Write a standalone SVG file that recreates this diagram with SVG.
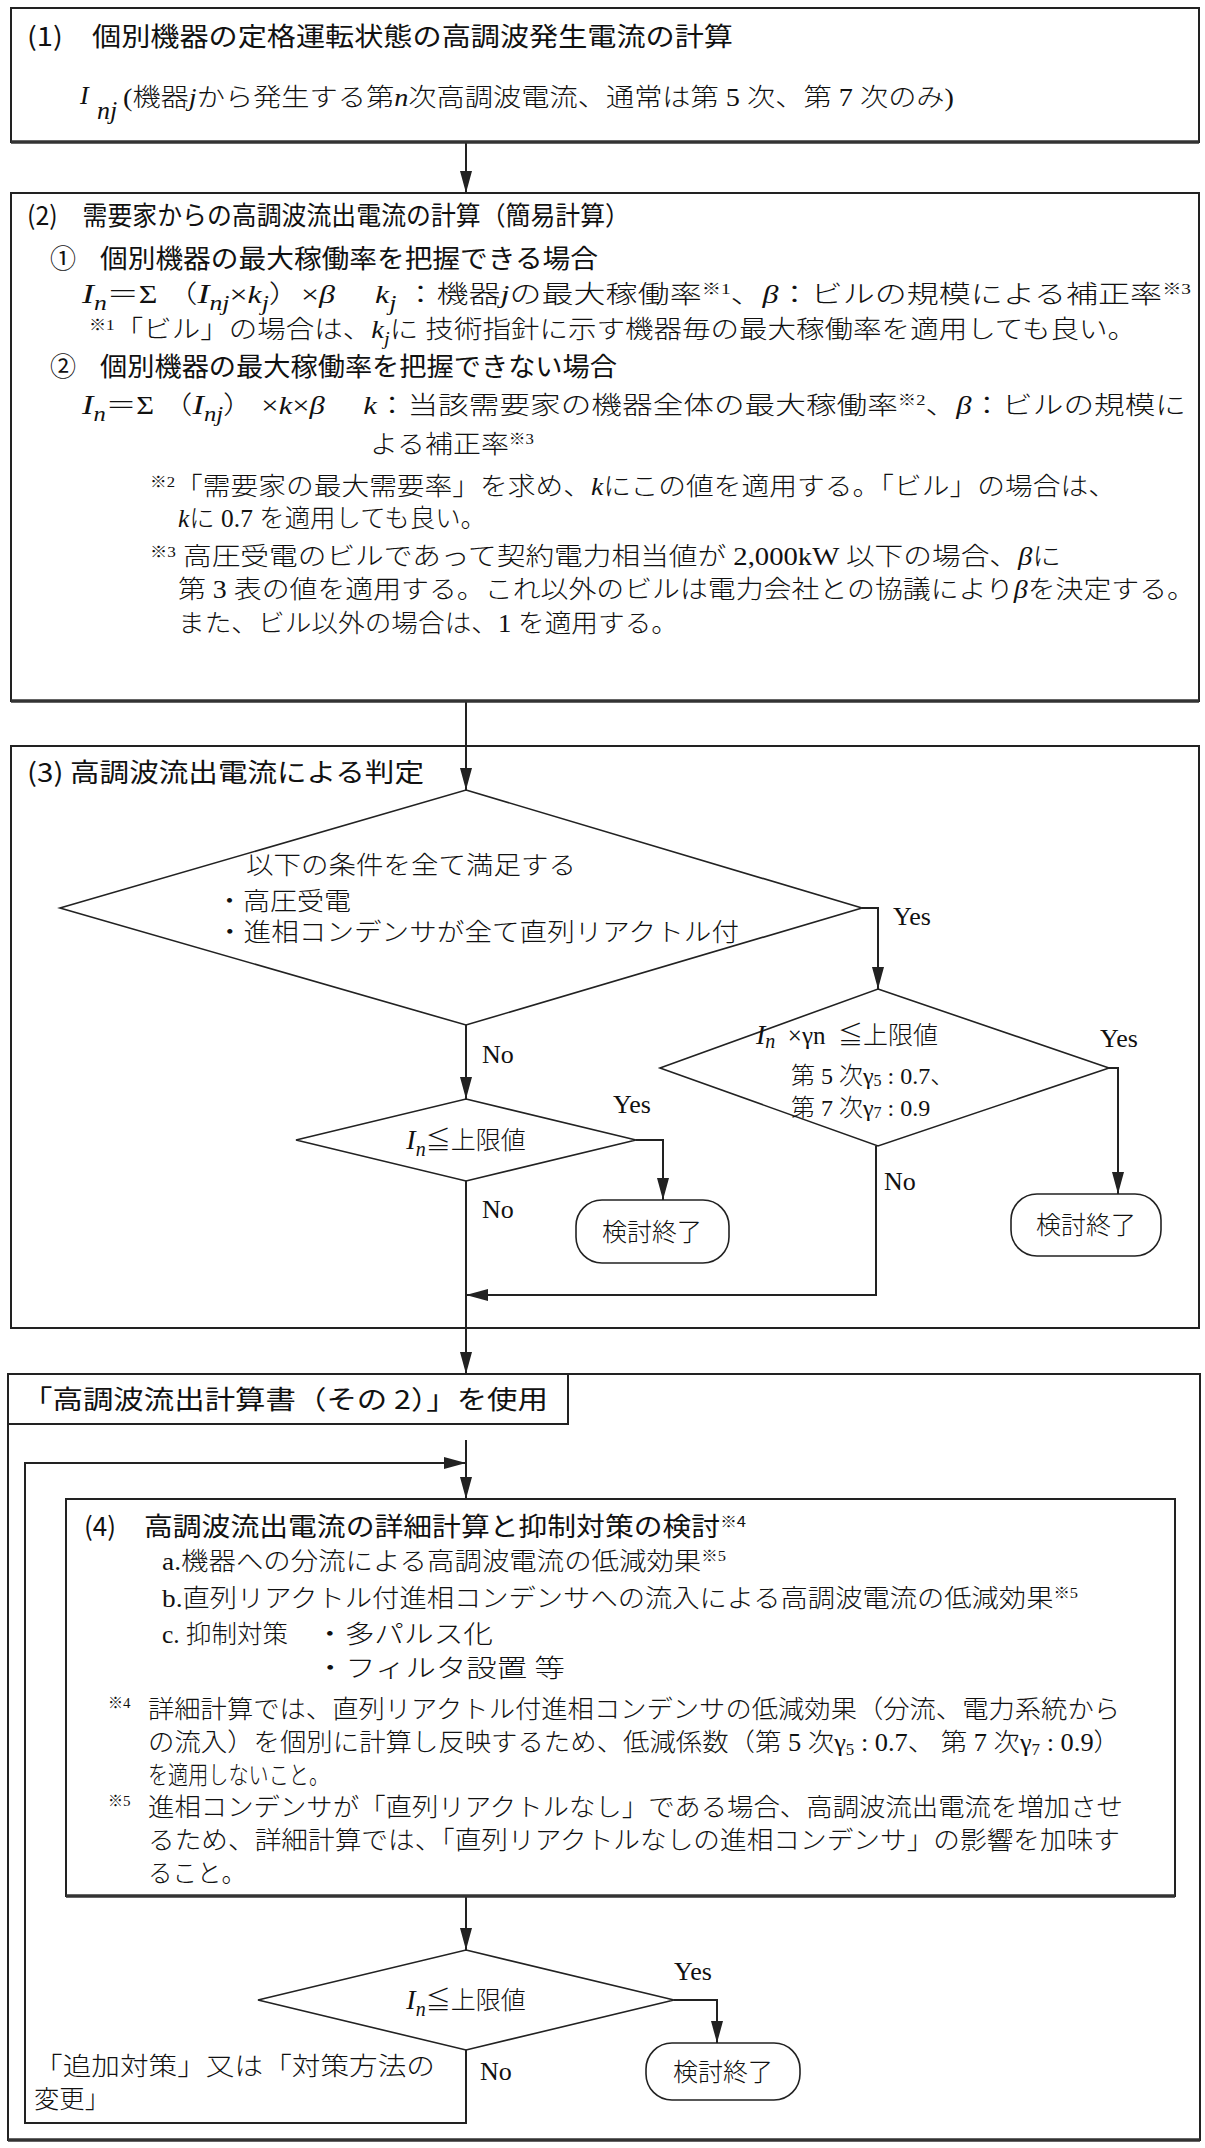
<svg xmlns="http://www.w3.org/2000/svg" width="1205" height="2148" viewBox="0 0 1205 2148">
<style>
.box{fill:none;stroke:#222;stroke-width:2}
.shade{stroke:#333;stroke-width:3.5}
.shape{fill:#fff;stroke:#222;stroke-width:1.6}
.edge{fill:none;stroke:#222;stroke-width:2}
.t{font-family:"Noto Sans CJK JP",sans-serif;font-size:26px;fill:#111}
.b{font-family:"Liberation Serif","Noto Sans CJK JP",serif;font-size:25px;fill:#111;font-weight:300}
.i{font-family:"Liberation Serif",serif;font-style:italic}
.l{font-family:"Liberation Serif",serif;font-size:26px;fill:#111}
.sup{font-size:15px}
</style>
<defs>
<marker id="arr" markerUnits="userSpaceOnUse" markerWidth="22" markerHeight="12" refX="22" refY="6" orient="auto">
<path d="M0,0 L22,6 L0,12 z" fill="#222"/>
</marker>
</defs>
<rect x="0" y="0" width="1205" height="2148" fill="#fff"/>

<g id="edges">
<line class="edge" x1="466" y1="142" x2="466" y2="193" marker-end="url(#arr)"/>
<line class="edge" x1="466" y1="701" x2="466" y2="790" marker-end="url(#arr)"/>
<polyline class="edge" points="862,908 878,908 878,989" marker-end="url(#arr)"/>
<polyline class="edge" points="1109,1068 1118,1068 1118,1194" marker-end="url(#arr)"/>
<line class="edge" x1="466" y1="1025" x2="466" y2="1099" marker-end="url(#arr)"/>
<polyline class="edge" points="636,1140 663,1140 663,1200" marker-end="url(#arr)"/>
<polyline class="edge" points="876,1146 876,1295 466,1295" marker-end="url(#arr)"/>
<line class="edge" x1="466" y1="1181" x2="466" y2="1374" marker-end="url(#arr)"/>
<line class="edge" x1="466" y1="1440" x2="466" y2="1499" marker-end="url(#arr)"/>
<polyline class="edge" points="466,2050 466,2123 25,2123 25,1463 466,1463" marker-end="url(#arr)"/>
<line class="edge" x1="466" y1="1896" x2="466" y2="1950" marker-end="url(#arr)"/>
<polyline class="edge" points="674,2000 717,2000 717,2043" marker-end="url(#arr)"/>
</g>

<g id="n1">
<rect class="box" x="11" y="8" width="1188" height="134"/>
<line class="shade" x1="11" y1="142" x2="1199" y2="142"/>
<text class="t" x="27" y="46" textLength="706" lengthAdjust="spacingAndGlyphs">(1)　個別機器の定格運転状態の高調波発生電流の計算</text>
<text class="l i" x="80" y="104" font-size="30">I</text>
<text class="l i" x="97" y="119" font-size="21">nj</text>
<text class="b" x="123" y="106" textLength="831" lengthAdjust="spacingAndGlyphs">(機器<tspan class="i">j</tspan>から発生する第<tspan class="i">n</tspan>次高調波電流、通常は第 5 次、第 7 次のみ)</text>
</g>

<g id="n2">
<rect class="box" x="11" y="193" width="1188" height="508"/>
<line class="shade" x1="11" y1="701" x2="1199" y2="701"/>
<text class="t" x="27" y="225" textLength="603" lengthAdjust="spacingAndGlyphs">(2)　需要家からの高調波流出電流の計算（簡易計算）</text>
<text class="t" x="50" y="268">①</text>
<text class="t" x="100" y="268" textLength="498" lengthAdjust="spacingAndGlyphs">個別機器の最大稼働率を把握できる場合</text>
<text class="b" x="82" y="303" textLength="1109" lengthAdjust="spacingAndGlyphs"><tspan class="i" font-size="28">I</tspan><tspan class="i" font-size="20" dy="7">n</tspan><tspan dy="-7">＝Σ （</tspan><tspan class="i" font-size="28">I</tspan><tspan class="i" font-size="20" dy="7">nj</tspan><tspan dy="-7">×</tspan><tspan class="i">k</tspan><tspan class="i" font-size="20" dy="7">j</tspan><tspan dy="-7">）×</tspan><tspan class="i">β</tspan><tspan>　 </tspan><tspan class="i">k</tspan><tspan class="i" font-size="20" dy="7">j</tspan><tspan dy="-7"> ：機器</tspan><tspan class="i">j</tspan><tspan>の最大稼働率</tspan><tspan class="sup" dy="-9">※1</tspan><tspan dy="9">、</tspan><tspan class="i">β</tspan><tspan>：ビルの規模による補正率</tspan><tspan class="sup" dy="-9">※3</tspan></text>
<text class="b" x="89" y="338" textLength="1047" lengthAdjust="spacingAndGlyphs"><tspan class="sup" dy="-8">※1</tspan><tspan dy="8">「ビル」の場合は、</tspan><tspan class="i">k</tspan><tspan class="i" font-size="18" dy="7">j</tspan><tspan dy="-7">に 技術指針に示す機器毎の最大稼働率を適用しても良い。</tspan></text>
<text class="t" x="50" y="376">②</text>
<text class="t" x="100" y="376" textLength="517" lengthAdjust="spacingAndGlyphs">個別機器の最大稼働率を把握できない場合</text>
<text class="b" x="82" y="414" textLength="1104" lengthAdjust="spacingAndGlyphs"><tspan class="i" font-size="28">I</tspan><tspan class="i" font-size="20" dy="7">n</tspan><tspan dy="-7">＝Σ （</tspan><tspan class="i" font-size="28">I</tspan><tspan class="i" font-size="20" dy="7">nj</tspan><tspan dy="-7">） ×</tspan><tspan class="i">k</tspan><tspan>×</tspan><tspan class="i">β</tspan><tspan>　 </tspan><tspan class="i">k</tspan><tspan>：当該需要家の機器全体の最大稼働率</tspan><tspan class="sup" dy="-9">※2</tspan><tspan dy="9">、</tspan><tspan class="i">β</tspan><tspan>：ビルの規模に</tspan></text>
<text class="b" x="370" y="453" textLength="164" lengthAdjust="spacingAndGlyphs">よる補正率<tspan class="sup" dy="-9">※3</tspan></text>
<text class="b" x="150" y="495" textLength="966" lengthAdjust="spacingAndGlyphs"><tspan class="sup" dy="-8">※2</tspan><tspan dy="8">「需要家の最大需要率」を求め、</tspan><tspan class="i">k</tspan><tspan>にこの値を適用する。「ビル」の場合は、</tspan></text>
<text class="b" x="178" y="527" textLength="308" lengthAdjust="spacingAndGlyphs"><tspan class="i">k</tspan><tspan>に 0.7 を適用しても良い。</tspan></text>
<text class="b" x="150" y="565" textLength="911" lengthAdjust="spacingAndGlyphs"><tspan class="sup" dy="-8">※3</tspan><tspan dy="8"> 高圧受電のビルであって契約電力相当値が 2,000kW 以下の場合、</tspan><tspan class="i">β</tspan><tspan>に</tspan></text>
<text class="b" x="178" y="598" textLength="1017" lengthAdjust="spacingAndGlyphs">第 3 表の値を適用する。これ以外のビルは電力会社との協議により<tspan class="i">β</tspan>を決定する。</text>
<text class="b" x="178" y="632" textLength="500" lengthAdjust="spacingAndGlyphs">また、ビル以外の場合は、1 を適用する。</text>
</g>

<g id="n3">
<rect class="box" x="11" y="746" width="1188" height="582"/>
<text class="t" x="27" y="782" textLength="397" lengthAdjust="spacingAndGlyphs">(3) 高調波流出電流による判定</text>
</g>

<g id="d1">
<polygon class="shape" points="466,790 862,908 466,1025 60,908"/>
<text class="b" x="246" y="874" textLength="330" lengthAdjust="spacingAndGlyphs">以下の条件を全て満足する</text>
<text class="b" x="216" y="910" textLength="135" lengthAdjust="spacingAndGlyphs">・高圧受電</text>
<text class="b" x="216" y="941" textLength="523" lengthAdjust="spacingAndGlyphs">・進相コンデンサが全て直列リアクトル付</text>
<text class="l" x="893" y="925">Yes</text>
<text class="l" x="482" y="1063">No</text>
</g>

<g id="d2">
<polygon class="shape" points="878,989 1109,1068 878,1146 660,1068"/>
<text class="b"><tspan x="756" y="1044" class="i" font-size="28">I</tspan><tspan class="i" font-size="20" dy="4">n</tspan><tspan dy="-4">&#160;&#160;×γn&#160;&#160;≦上限値</tspan><tspan x="791" y="1084" font-size="24">第 5 次γ</tspan><tspan font-size="16" dy="2">5</tspan><tspan font-size="24" dy="-2"> : 0.7、</tspan><tspan x="791" y="1116" font-size="24">第 7 次γ</tspan><tspan font-size="16" dy="2">7</tspan><tspan font-size="24" dy="-2"> : 0.9</tspan></text>
<text class="l" x="1100" y="1047">Yes</text>
<text class="l" x="884" y="1190">No</text>
</g>

<g id="t2">
<rect class="shape" x="1011" y="1194" width="150" height="62" rx="26"/>
<text class="b" x="1086" y="1234" text-anchor="middle">検討終了</text>
</g>

<g id="d3">
<polygon class="shape" points="466,1099 636,1140 466,1181 296,1140"/>
<text class="b" x="466" y="1149" text-anchor="middle"><tspan class="i" font-size="28">I</tspan><tspan class="i" font-size="20" dy="7">n</tspan><tspan dy="-7">≦上限値</tspan></text>
<text class="l" x="613" y="1113">Yes</text>
<text class="l" x="482" y="1218">No</text>
</g>

<g id="t1">
<rect class="shape" x="576" y="1200" width="153" height="63" rx="26"/>
<text class="b" x="652" y="1241" text-anchor="middle">検討終了</text>
</g>

<g id="n4">
<rect class="box" x="8" y="1374" width="1192" height="766"/>
<line class="shade" x1="8" y1="2140" x2="1200" y2="2140"/>
<rect class="box" x="8" y="1374" width="560" height="50"/>
<text class="t" x="22" y="1409" textLength="526" lengthAdjust="spacingAndGlyphs">「高調波流出計算書（その 2）」を使用</text>
</g>

<g id="n5">
<rect class="box" x="66" y="1499" width="1109" height="397"/>
<line class="shade" x1="66" y1="1896" x2="1175" y2="1896"/>
<text class="t" x="84" y="1536">(4)</text>
<text class="t" x="144" y="1536" textLength="602" lengthAdjust="spacingAndGlyphs">高調波流出電流の詳細計算と抑制対策の検討<tspan class="sup" dy="-9">※4</tspan></text>
<text class="b" x="162" y="1570" textLength="564" lengthAdjust="spacingAndGlyphs">a.機器への分流による高調波電流の低減効果<tspan class="sup" dy="-9">※5</tspan></text>
<text class="b" x="162" y="1607" textLength="916" lengthAdjust="spacingAndGlyphs">b.直列リアクトル付進相コンデンサへの流入による高調波電流の低減効果<tspan class="sup" dy="-9">※5</tspan></text>
<text class="b" x="162" y="1643" textLength="126" lengthAdjust="spacingAndGlyphs">c. 抑制対策</text>
<text class="b" x="315" y="1643" textLength="178" lengthAdjust="spacingAndGlyphs">・多パルス化</text>
<text class="b" x="315" y="1677" textLength="250" lengthAdjust="spacingAndGlyphs">・フィルタ設置 等</text>
<text class="b sup" x="108" y="1708">※4</text>
<text class="b" x="148" y="1718" textLength="972" lengthAdjust="spacingAndGlyphs">詳細計算では、直列リアクトル付進相コンデンサの低減効果（分流、電力系統から</text>
<text class="b" x="148" y="1751" textLength="972" lengthAdjust="spacingAndGlyphs">の流入）を個別に計算し反映するため、低減係数（第 5 次γ<tspan font-size="16" dy="4">5</tspan><tspan dy="-4"> : 0.7、 第 7 次γ</tspan><tspan font-size="16" dy="4">7</tspan><tspan dy="-4"> : 0.9）</tspan></text>
<text class="b" x="148" y="1784" textLength="181" lengthAdjust="spacingAndGlyphs">を適用しないこと。</text>
<text class="b sup" x="108" y="1806">※5</text>
<text class="b" x="148" y="1816" textLength="975" lengthAdjust="spacingAndGlyphs">進相コンデンサが「直列リアクトルなし」である場合、高調波流出電流を増加させ</text>
<text class="b" x="148" y="1849" textLength="972" lengthAdjust="spacingAndGlyphs">るため、詳細計算では、「直列リアクトルなしの進相コンデンサ」の影響を加味す</text>
<text class="b" x="148" y="1882" textLength="98" lengthAdjust="spacingAndGlyphs">ること。</text>
</g>

<g id="d4">
<polygon class="shape" points="466,1950 674,2000 466,2050 258,2000"/>
<text class="b" x="466" y="2009" text-anchor="middle"><tspan class="i" font-size="28">I</tspan><tspan class="i" font-size="20" dy="7">n</tspan><tspan dy="-7">≦上限値</tspan></text>
<text class="l" x="674" y="1980">Yes</text>
<text class="l" x="480" y="2080">No</text>
<text class="b" x="34" y="2075" textLength="401" lengthAdjust="spacingAndGlyphs">「追加対策」又は「対策方法の</text>
<text class="b" x="34" y="2108" textLength="76" lengthAdjust="spacingAndGlyphs">変更」</text>
</g>

<g id="t3">
<rect class="shape" x="646" y="2043" width="154" height="57" rx="26"/>
<text class="b" x="723" y="2081" text-anchor="middle">検討終了</text>
</g>
</svg>
